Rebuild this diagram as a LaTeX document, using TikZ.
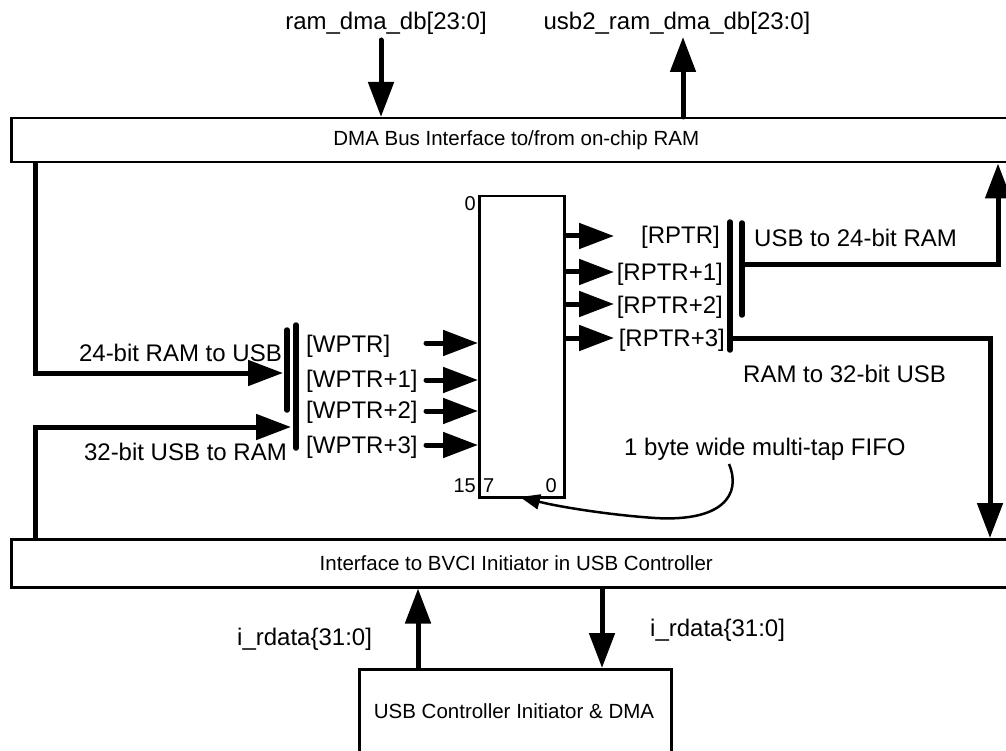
\documentclass[tikz,border=0pt]{standalone}
\usepackage{fontspec}
\setmainfont{Liberation Sans}
\usetikzlibrary{arrows.meta}
\begin{document}
\begin{tikzpicture}[x=1pt,y=-1pt,
  box/.style={draw, line width=2.5pt, inner sep=0pt, font=\fontsize{20.5}{24}\selectfont},
  boxtext/.style={inner sep=0pt, font=\fontsize{20.5}{24}\selectfont},
  lbl/.style={inner sep=0pt, font=\fontsize{24}{28}\selectfont},
  idx/.style={inner sep=0pt, font=\fontsize{20}{24}\selectfont},
  busarrow/.style={line width=5pt, line cap=round, -{Triangle[length=35pt,width=25pt]}},
  busbar/.style={line width=5.5pt, line cap=round},
  thinarrow/.style={line width=2.5pt, -{Triangle[length=20pt,width=15pt]}},
]
\clip (0,0) rectangle (1006,751);
\fill[white] (0,0) rectangle (1006,751);

% boxes
\node[box, minimum width=1010pt, minimum height=44pt, anchor=north west] (dma) at (10,117) {DMA Bus Interface to/from on-chip RAM};
\node[box, minimum width=1010pt, minimum height=48pt, anchor=north west] (bvci) at (10,538) {Interface to BVCI Initiator in USB Controller};
\node[box, minimum width=312pt, minimum height=110pt, anchor=north west] (usbc) at (358,668) {};
\node[boxtext, anchor=base] (usbct) at (514,718) {USB Controller Initiator \& DMA};
\node[draw, line width=2.5pt, inner sep=0pt, minimum width=85pt, minimum height=301pt, anchor=north west] (fifo) at (478,195) {};

% FIFO indices
\node[idx, anchor=base east] (i0) at (476,211) {0};
\node[idx, anchor=base east] (i15) at (476,492) {15};
\node[idx, anchor=base west] (i7) at (483,492) {7};
\node[idx, anchor=base east] (i0b) at (557,492) {0};

% top signals
\node[lbl, anchor=base] (lram) at (386,30) {ram\_dma\_db[23:0]};
\node[lbl, anchor=base] (lusb) at (677,30) {usb2\_ram\_dma\_db[23:0]};
\coordinate (ramin) at (381,40);
\coordinate (usbout) at (683,37);
\draw[busarrow] (ramin) -- (ramin |- dma.north);
\draw[busarrow] (usbout |- dma.north) -- (usbout);

% left side buses
\coordinate (b1t) at (287,330);
\coordinate (b1b) at (287,410);
\coordinate (b2t) at (296,325);
\coordinate (b2b) at (296,448);
\draw[busbar] (b1t) -- (b1b);
\draw[busbar] (b2t) -- (b2b);
\coordinate (in24) at (283,373);
\coordinate (in32) at (291,427);
\draw[busarrow] ([xshift=25pt]dma.south west) |- (in24);
\draw[busarrow] ([xshift=25pt]bvci.north west) |- (in32);
\node[lbl, anchor=base east] (t24) at (282,361) {24-bit RAM to USB};
\node[lbl, anchor=base east] (t32) at (287,460) {32-bit USB to RAM};

% write pointers
\node[lbl, anchor=base west] (w0t) at (306,352) {[WPTR]};
\node[lbl, anchor=base west] (w1t) at (306,387) {[WPTR+1]};
\node[lbl, anchor=base west] (w2t) at (306,418) {[WPTR+2]};
\node[lbl, anchor=base west] (w3t) at (306,453) {[WPTR+3]};
\coordinate (w0) at (426,343);
\coordinate (w1) at (426,380);
\coordinate (w2) at (426,411);
\coordinate (w3) at (426,445);
\foreach \w in {w0,w1,w2,w3}
  \draw[busarrow] (\w) -- (\w -| fifo.west);

% read pointers
\coordinate (r0) at (614,236);
\coordinate (r1) at (614,272);
\coordinate (r2) at (614,304);
\coordinate (r3) at (614,338);
\foreach \r in {r0,r1,r2,r3}
  \draw[busarrow] (\r -| fifo.east) -- (\r);
\node[lbl, anchor=base east] (r0t) at (720,244) {[RPTR]};
\node[lbl, anchor=base east] (r1t) at (723,280) {[RPTR+1]};
\node[lbl, anchor=base east] (r2t) at (723,313) {[RPTR+2]};
\node[lbl, anchor=base east] (r3t) at (725,346) {[RPTR+3]};

% right side bars and buses
\coordinate (c1t) at (730,222);
\coordinate (c1b) at (730,350);
\coordinate (c2t) at (742,223);
\coordinate (c2b) at (742,315);
\draw[busbar] (c1t) -- (c1b);
\draw[busbar] (c2t) -- (c2b);
\coordinate (r24) at (742,265);
\coordinate (tapR) at (998,265);
\coordinate (r32) at (730,338);
\coordinate (tapD) at (990,338);
\draw[busarrow] (r24) -- (tapR) -- (tapR |- dma.south);
\draw[busarrow] (r32) -- (tapD) -- (tapD |- bvci.north);
\node[lbl, anchor=base west] (tu24) at (754,247) {USB to 24-bit RAM};
\node[lbl, anchor=base west] (tr32) at (743,382) {RAM to 32-bit USB};

% FIFO caption
\node[lbl, anchor=base west] (cap) at (624,455) {1 byte wide multi-tap FIFO};
\coordinate (capa) at (729,464);
\coordinate (fifotip) at (520,497);
\draw[thinarrow] (capa) .. controls (742,495) and (722,522) .. (655,518) .. controls (610,515) and (560,507) .. (fifotip);

% bottom signals
\coordinate (upx) at (418,668);
\coordinate (dnx) at (602,668);
\draw[busarrow] (upx |- usbc.north) -- (upx |- bvci.south);
\draw[busarrow] (dnx |- bvci.south) -- (dnx |- usbc.north);
\node[lbl, anchor=base west] (rdl) at (237,645) {i\_rdata\{31:0]};
\node[lbl, anchor=base west] (rdr) at (650,636) {i\_rdata\{31:0]};
\end{tikzpicture}
\end{document}
